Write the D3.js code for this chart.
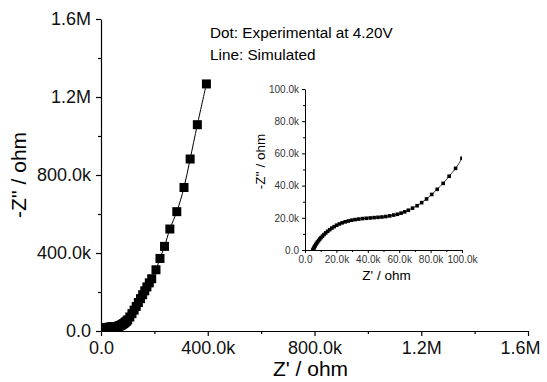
<!DOCTYPE html>
<html><head><meta charset="utf-8">
<script src="https://cdn.jsdelivr.net/npm/d3@7"></script>
<style>html,body{margin:0;padding:0;background:#fff;}svg{display:block;font-family:"Liberation Sans",Arial,sans-serif;}</style>
</head><body>
<svg id="chart" width="547" height="382"></svg>
<script>
// Experimental impedance (kΩ)
const zRe = [5.0,5.3,5.6,6.0,6.4,6.9,7.4,8.0,8.7,9.4,10.2,11.1,12.1,13.2,14.4,15.7,17.1,18.6,20.2,21.9,23.7,25.6,27.6,29.7,31.9,34.2,36.6,39.0,41.5,44.0,46.5,49.0,51.5,54.0,56.5,58.9,61.2,63.5,65.8,68.5,71.4,74.3,77.4,80.7,84.2,88.0,91.8,95.9,
  100,108,116,124,132,140,148,156,164,172,181,190,206,221,238,258,284,311,334,361,395];
const zIm = [0.0,0.6,1.2,1.9,2.6,3.4,4.2,5.0,5.9,6.8,7.7,8.6,9.6,10.6,11.6,12.6,13.6,14.5,15.4,16.2,16.9,17.5,18.0,18.5,18.9,19.2,19.5,19.7,19.9,20.1,20.3,20.5,20.8,21.2,21.7,22.2,22.9,23.7,24.7,26.0,27.5,29.4,31.7,34.5,37.7,41.4,45.8,50.7,
  57,72,89,107,126,146,166,186,206,226,247,268,314,372,434,523,612,736,882,1058,1267];
const mainTicks = [0,400,800,1200,1600];
const mainTickLabels = ["0.0","400.0k","800.0k","1.2M","1.6M"];
const mainMinor = [200,600,1000,1400];
const insetTicks = [0,20,40,60,80,100];
const insetTickLabels = ["0.0","20.0k","40.0k","60.0k","80.0k","100.0k"];
const insetMinor = [10,30,50,70,90];
const noteLines = ["Dot: Experimental at 4.20V","Line: Simulated"];

const svg = d3.select("#chart");
const pts = zRe.map((v,i)=>({x:v,y:zIm[i]}));

function panel(g, opt){
  const x = d3.scaleLinear().domain(opt.dom).range([opt.x0,opt.x1]);
  const y = d3.scaleLinear().domain(opt.dom).range([opt.y0,opt.y1]);
  const id = opt.id;
  svg.append("clipPath").attr("id",id).append("rect")
    .attr("x",opt.x0).attr("y",opt.y1).attr("width",opt.x1-opt.x0).attr("height",opt.y0-opt.y1);
  const plot = g.append("g").attr("clip-path",`url(#${id})`);
  const line = d3.line().x(d=>x(d.x)).y(d=>y(d.y)).curve(d3.curveCatmullRom);
  plot.append("path").datum(pts).attr("d",line).attr("fill","none").attr("stroke","#000").attr("stroke-width",opt.lw);
  plot.selectAll("rect.pt").data(pts.filter(d=>d.x<=opt.dom[1]*1.05)).join("rect")
    .attr("x",d=>x(d.x)-opt.ms/2).attr("y",d=>y(d.y)-opt.ms/2)
    .attr("width",opt.ms).attr("height",opt.ms).attr("fill","#000");
  const fmt = (d)=>opt.labels[opt.ticks.indexOf(d)];
  const xa = g.append("g").attr("transform",`translate(0,${opt.y0})`)
    .call(d3.axisBottom(x).tickValues(opt.ticks).tickFormat(fmt).tickSize(opt.tl).tickPadding(opt.tp).tickSizeOuter(0));
  g.append("g").attr("transform",`translate(0,${opt.y0})`)
    .call(d3.axisBottom(x).tickValues(opt.minor).tickFormat("").tickSize(opt.tm).tickSizeOuter(0))
    .select(".domain").remove();
  const ya = g.append("g").attr("transform",`translate(${opt.x0},0)`)
    .call(d3.axisLeft(y).tickValues(opt.ticks).tickFormat(fmt).tickSize(opt.tl).tickPadding(opt.tp).tickSizeOuter(0));
  g.append("g").attr("transform",`translate(${opt.x0},0)`)
    .call(d3.axisLeft(y).tickValues(opt.minor).tickFormat("").tickSize(opt.tm).tickSizeOuter(0))
    .select(".domain").remove();
  g.selectAll(".tick text").attr("font-family","Liberation Sans, Arial, sans-serif");
  [xa,ya].forEach(a=>{a.selectAll("text").attr("font-size",opt.fs).attr("fill",opt.tc);
    a.select(".domain").attr("stroke","#000").attr("stroke-width",opt.aw);});
  g.selectAll(".tick line").attr("stroke","#000").attr("stroke-width",opt.aw);
  if (opt.lastDx) xa.selectAll(".tick text").filter(d=>d===opt.ticks[opt.ticks.length-1]).attr("dx",opt.lastDx);
  g.append("text").attr("x",(opt.x0+opt.x1)/2+opt.xtdx).attr("y",opt.xty).attr("text-anchor","middle")
    .attr("font-size",opt.tfs).attr("fill","#000").text("Z' / ohm");
  g.append("text").attr("transform",`translate(${opt.ytx},${(opt.y0+opt.y1)/2+opt.ytdy}) rotate(-90)`)
    .attr("text-anchor","middle").attr("font-size",opt.tfs).attr("fill","#000").text("-Z'' / ohm");
}

panel(svg.append("g"),{id:"cm",dom:[0,1600],x0:101,x1:528,y0:331,y1:19,ticks:mainTicks,labels:mainTickLabels,minor:mainMinor,
  tl:5,tm:3,tp:5,fs:18,tc:"#111",aw:1.2,ms:9,lw:1,tfs:21,xty:376,xtdx:-4,ytx:26,ytdy:0,lastDx:-8});
panel(svg.append("g"),{id:"ci",dom:[0,100],x0:305,x1:462,y0:250,y1:89,ticks:insetTicks,labels:insetTickLabels,minor:insetMinor,
  tl:3,tm:2,tp:3,fs:10,tc:"#333",aw:1,ms:3.6,lw:0.8,tfs:13.5,xty:280,xtdx:3,ytx:265,ytdy:-8});

svg.append("g").selectAll("text").data(noteLines).join("text")
  .attr("x",210).attr("y",(d,i)=>38+i*22).attr("font-size",15.3).attr("fill","#000").text(d=>d);
</script>
</body></html>
